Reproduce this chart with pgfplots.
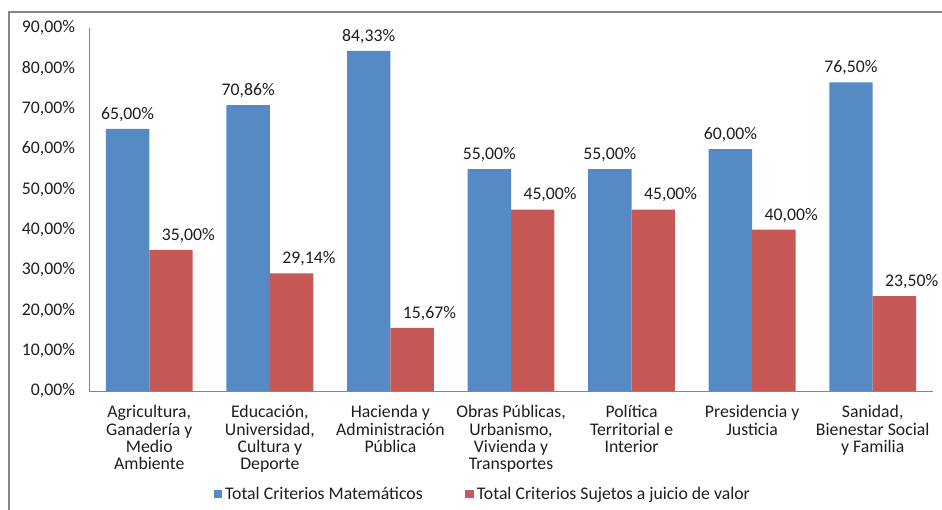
\documentclass[border=0pt]{standalone}
\usepackage{pgfplots}
\pgfplotsset{compat=1.18}
\usepackage{fontspec}
\setmainfont{Carlito}
\definecolor{cblue}{RGB}{85,138,197}
\definecolor{cred}{RGB}{198,89,86}
\definecolor{axisgray}{RGB}{134,134,134}
\definecolor{txt}{RGB}{30,30,30}
\newcommand{\cf}{\fontsize{13.3}{13}\selectfont}
\begin{document}
\begin{tikzpicture}
\path[use as bounding box] (0pt,0pt) rectangle (706.5pt,382.5pt);
\draw[axisgray,line width=1pt] (6.75pt,0pt) -- (6.75pt,373.5pt) -- (706.5pt,373.5pt);
\begin{axis}[
  at={(66.75pt,89.25pt)}, anchor=south west,
  scale only axis,
  width=633pt, height=272.25pt,
  xmin=-0.5, xmax=6.5, ymin=0, ymax=90,
  ybar=0pt, bar width=0.36,
  axis line style={axisgray},
  axis x line*=bottom, axis y line*=left,
  x axis line style={-}, y axis line style={-},
  tick style={draw=none},
  xtick={0,...,6},
  ytick={0,10,...,90},
  /pgf/number format/assume math mode=true,
  yticklabel={\pgfmathprintnumber[fixed,fixed zerofill,precision=2,use comma]{\tick}\%},
  yticklabel style={font=\cf, text=txt, xshift=-7pt},
  xticklabels={{Agricultura,\\Ganadería y\\Medio\\Ambiente},
               {Educación,\\Universidad,\\Cultura y\\Deporte},
               {Hacienda y\\Administración\\Pública},
               {Obras Públicas,\\Urbanismo,\\Vivienda y\\Transportes},
               {Política\\Territorial e\\Interior},
               {Presidencia y\\Justicia},
               {Sanidad,\\Bienestar Social\\y Familia}},
  xticklabel style={align=center, font=\cf, text=txt, yshift=-3pt},
  nodes near coords={\pgfmathprintnumber[fixed,fixed zerofill,precision=2,use comma]{\pgfplotspointmeta}\%},
  nodes near coords style={font=\cf, text=txt, yshift=2pt},
  point meta=y,
  legend columns=2,
  legend style={at={(0.467,-0.284)}, anchor=center, draw=none, fill=none,
    font=\cf, text=txt,
    /tikz/every even column/.append style={column sep=30pt}},
  legend image code/.code={\fill[#1] (0pt,-3.3pt) rectangle (6.6pt,3.3pt);},
]
\addplot[fill=cblue, draw=none, bar shift=-0.18] coordinates {
(0,65.00) (1,70.86) (2,84.33) (3,55.00) (4,55.00) (5,60.00) (6,76.50)};
\addplot[fill=cred, draw=none, bar shift=0.18,
  every node near coord/.append style={xshift=13pt}] coordinates {
(0,35.00) (1,29.14) (2,15.67) (3,45.00) (4,45.00) (5,40.00) (6,23.50)};
\legend{Total Criterios Matemáticos, Total Criterios Sujetos a juicio de valor}
\end{axis}
\end{tikzpicture}
\end{document}
